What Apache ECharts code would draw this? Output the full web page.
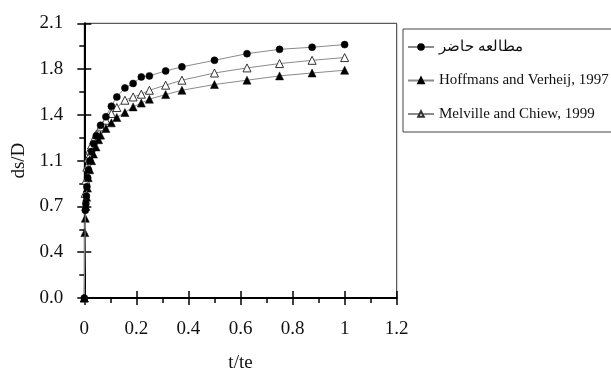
<!DOCTYPE html>
<html>
<head>
<meta charset="utf-8">
<script src="https://cdn.jsdelivr.net/npm/echarts@6/dist/echarts.min.js"></script>
<style>
  html, body { margin: 0; padding: 0; background: #fff; }
  #chart { width: 611px; height: 370px; }
</style>
</head>
<body>
<div id="chart"></div>
<script>
// Relative scour depth ds/D against relative time t/te
const seriesNames = ['مطالعه حاضر', 'Hoffmans and Verheij, 1997', 'Melville and Chiew, 1999'];

const presentStudyT = [0, 0.004, 0.006, 0.008, 0.010, 0.013, 0.016, 0.021, 0.028, 0.036, 0.046, 0.0625, 0.083, 0.104, 0.125, 0.156, 0.1875, 0.219, 0.25, 0.3125, 0.375, 0.5, 0.625, 0.75, 0.875, 1.0];
const presentStudyD = [0, 0.67, 0.72, 0.78, 0.85, 0.92, 0.98, 1.05, 1.12, 1.18, 1.24, 1.32, 1.385, 1.466, 1.537, 1.606, 1.64, 1.69, 1.698, 1.736, 1.767, 1.817, 1.868, 1.901, 1.917, 1.937];

const hoffmansT = [0, 0.002, 0.004, 0.006, 0.009, 0.012, 0.015, 0.021, 0.028, 0.035, 0.045, 0.055, 0.0625, 0.083, 0.104, 0.125, 0.156, 0.1875, 0.219, 0.25, 0.3125, 0.375, 0.5, 0.625, 0.75, 0.875, 1.0];
const hoffmansD = [0, 0.50, 0.61, 0.70, 0.77, 0.84, 0.92, 0.98, 1.05, 1.10, 1.155, 1.21, 1.245, 1.296, 1.339, 1.38, 1.418, 1.461, 1.49, 1.52, 1.555, 1.588, 1.632, 1.665, 1.698, 1.72, 1.741];

const melvilleT = [0, 0.003, 0.006, 0.010, 0.015, 0.021, 0.028, 0.036, 0.046, 0.0625, 0.083, 0.104, 0.125, 0.156, 0.1875, 0.219, 0.25, 0.3125, 0.375, 0.5, 0.625, 0.75, 0.875, 1.0];
const melvilleD = [0, 0.80, 0.90, 1.00, 1.07, 1.13, 1.17, 1.21, 1.25, 1.308, 1.359, 1.41, 1.456, 1.512, 1.537, 1.558, 1.588, 1.627, 1.665, 1.72, 1.759, 1.792, 1.817, 1.838];

const xTickLabels = ['0', '0.2', '0.4', '0.6', '0.8', '1', '1.2'];
const yTickLabels = ['0.0', '0.4', '0.7', '1.1', '1.4', '1.8', '2.1'];

const X_STEP = 0.2, Y_STEP = 0.35;
const FONT = "'Liberation Serif', 'Times New Roman', serif";
const INK = '#111';

function pairs(xs, ys) { return xs.map((x, i) => [x, ys[i]]); }

const lineStyle = { color: '#8a8a8a', width: 1 };

const chart = echarts.init(document.getElementById('chart'), null, { renderer: 'canvas' });

chart.setOption({
  animation: false,
  backgroundColor: '#fff',
  textStyle: { fontFamily: FONT, color: INK },
  grid: {
    left: 84.3, right: 214.3, top: 23.3, bottom: 72,
    outerBoundsMode: 'none', containLabel: false,
    show: true, borderColor: '#333', borderWidth: 1
  },
  legend: {
    orient: 'vertical',
    left: 403, top: 29,
    padding: [10, 3, 10, 4],
    itemWidth: 26, itemHeight: 7, itemGap: 17.5,
    borderColor: '#444', borderWidth: 1,
    textStyle: { fontFamily: FONT, fontSize: 15, color: INK, lineHeight: 16 },
    data: seriesNames
  },
  xAxis: [{
    type: 'value', min: 0, max: 1.2, interval: X_STEP,
    name: 't/te', nameLocation: 'middle', nameGap: 56,
    nameTextStyle: { fontFamily: FONT, fontSize: 19, color: INK },
    axisLine: { lineStyle: { color: '#000', width: 2 } },
    axisTick: { inside: false, length: 7, lineStyle: { color: '#000', width: 1.5 } },
    minorTick: { show: true, splitNumber: 2, length: 5, lineStyle: { color: '#000', width: 1.5 } },
    splitLine: { show: false },
    axisLabel: {
      margin: 22, fontFamily: FONT, fontSize: 19, color: INK,
      formatter: v => xTickLabels[Math.round(v / X_STEP)] ?? ''
    }
  }, {
    type: 'value', min: 0, max: 1.2, interval: X_STEP, position: 'bottom', offset: 0,
    axisLine: { show: false },
    axisTick: { inside: true, length: 7, lineStyle: { color: '#000', width: 1.5 } },
    axisLabel: { show: false }, splitLine: { show: false }
  }],
  yAxis: [{
    type: 'value', min: 0, max: 2.1, interval: Y_STEP,
    name: 'ds/D', nameLocation: 'middle', nameGap: 55,
    nameTextStyle: { fontFamily: FONT, fontSize: 19, color: INK },
    axisLine: { show: true, lineStyle: { color: '#000', width: 2 } },
    axisTick: { show: true, inside: false, length: 7, lineStyle: { color: '#000', width: 1.5 } },
    minorTick: { show: true, splitNumber: 2, length: 5, lineStyle: { color: '#000', width: 1.5 } },
    splitLine: { show: false },
    axisLabel: {
      margin: 21, fontFamily: FONT, fontSize: 19, color: INK,
      formatter: v => yTickLabels[Math.round(v / Y_STEP)] ?? ''
    }
  }, {
    type: 'value', min: 0, max: 2.1, interval: Y_STEP, position: 'left', offset: 0,
    axisLine: { show: false },
    axisTick: { show: true, inside: true, length: 7, lineStyle: { color: '#000', width: 1.5 } },
    axisLabel: { show: false }, splitLine: { show: false }
  }],
  series: [{
    name: seriesNames[0], type: 'line', data: pairs(presentStudyT, presentStudyD),
    symbol: 'circle', symbolSize: 7, showAllSymbol: true, z: 4,
    lineStyle: lineStyle,
    itemStyle: { color: '#000', borderColor: '#000', borderWidth: 0.5 }
  }, {
    name: seriesNames[1], type: 'line', data: pairs(hoffmansT, hoffmansD),
    symbol: 'triangle', symbolSize: 8, showAllSymbol: true, z: 3,
    lineStyle: lineStyle,
    itemStyle: { color: '#000', borderColor: '#000', borderWidth: 0.5 }
  }, {
    name: seriesNames[2], type: 'line', data: pairs(melvilleT, melvilleD),
    symbol: 'triangle', symbolSize: 8, showAllSymbol: true, z: 2,
    lineStyle: lineStyle,
    itemStyle: { color: '#fff', borderColor: '#333', borderWidth: 1 }
  }]
});
</script>
</body>
</html>
